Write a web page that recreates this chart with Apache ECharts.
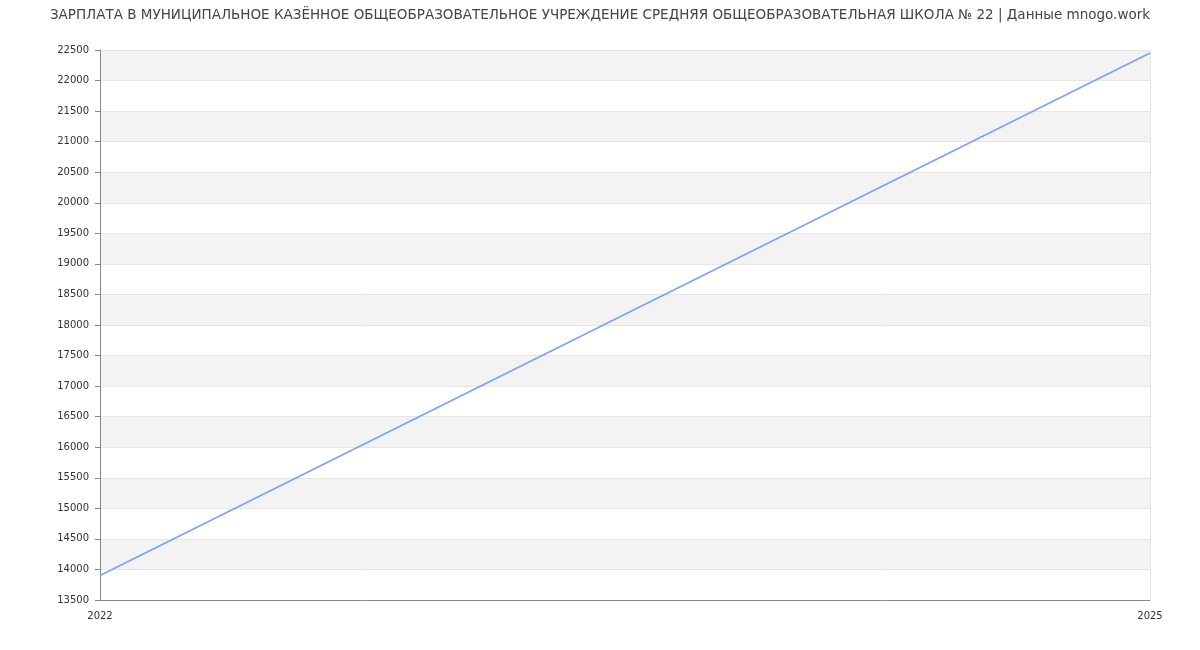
<!DOCTYPE html>
<html><head><meta charset="utf-8">
<script src="https://cdn.jsdelivr.net/npm/echarts@6/dist/echarts.min.js"></script>
<style>html,body{margin:0;padding:0;background:#fff}#c{width:1200px;height:650px}</style>
</head><body><div id="c"></div>
<script>
const titleText = 'ЗАРПЛАТА В МУНИЦИПАЛЬНОЕ КАЗЁННОЕ ОБЩЕОБРАЗОВАТЕЛЬНОЕ УЧРЕЖДЕНИЕ СРЕДНЯЯ ОБЩЕОБРАЗОВАТЕЛЬНАЯ ШКОЛА № 22 | Данные mnogo.work';
const years = ['2022', '2025'];
const salary = [13900, 22450];
const chart = echarts.init(document.getElementById('c'));
chart.setOption({
  animation: false,
  title: { text: titleText, left: 'center', top: 3, textStyle: { fontFamily: 'DejaVu Sans', fontSize: 13.5, fontWeight: 'normal', color: '#444' } },
  grid: { left: 100, right: 50, top: 50, bottom: 50 },
  xAxis: {
    type: 'category', data: years, boundaryGap: false,
    axisLine: { lineStyle: { color: '#888' } },
    axisTick: { show: false },
    axisLabel: { fontFamily: 'DejaVu Sans', fontSize: 10, color: '#333', margin: 11 },
    splitLine: { show: true, lineStyle: { color: '#e6e6e6' } }
  },
  yAxis: {
    type: 'value', min: 13500, max: 22500, interval: 500,
    axisLine: { show: true, lineStyle: { color: '#888' } },
    axisTick: { show: true, length: 5, lineStyle: { color: '#888' } },
    axisLabel: { fontFamily: 'DejaVu Sans', fontSize: 10, color: '#333', margin: 11, formatter: v => String(v) },
    splitLine: { show: true, lineStyle: { color: '#e6e6e6' } },
    splitArea: { show: true, areaStyle: { color: ['#ffffff', '#f3f3f3'] } }
  },
  series: [{
    type: 'line', data: salary, symbol: 'none',
    lineStyle: { color: '#7aa3f5', width: 1.6 }
  }]
});
</script></body></html>
